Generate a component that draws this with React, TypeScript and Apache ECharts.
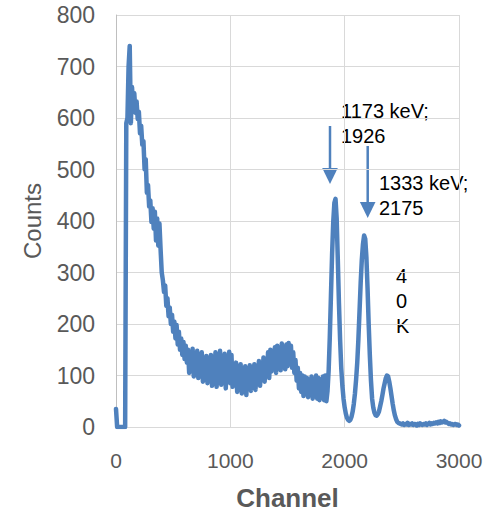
import React, { useEffect, useRef } from "react";
import * as echarts from "echarts";

// Gamma spectrum: counts sampled every 10 channels, from channel 0 to 3000
const channelStep = 10;
const counts: number[] = [
  35, 0, 0, 0, 0, 0, 0, 0, 0, 590, // 0-90
  600, 700, 740, 590, 660, 625, 648, 610, 632, 598, // 100-190
  612, 570, 585, 548, 555, 500, 520, 455, 470, 428, // 200-290
  440, 398, 425, 385, 418, 362, 405, 352, 395, 345, // 300-390
  300, 285, 262, 275, 235, 250, 215, 232, 200, 218, // 400-490
  185, 205, 172, 198, 160, 185, 150, 172, 140, 165, // 500-590
  132, 158, 125, 150, 105, 145, 110, 152, 98, 140, // 600-690
  115, 148, 95, 135, 102, 145, 88, 130, 100, 138, // 700-790
  85, 128, 95, 140, 80, 125, 98, 145, 78, 132, // 800-890
  90, 148, 82, 120, 100, 142, 75, 128, 95, 146, // 900-990
  85, 140, 78, 118, 92, 125, 68, 110, 85, 122, // 1000-1090
  65, 105, 88, 118, 62, 112, 80, 120, 70, 108, // 1100-1190
  90, 122, 72, 115, 85, 128, 80, 122, 95, 135, // 1200-1290
  88, 130, 100, 145, 95, 150, 108, 148, 112, 155, // 1300-1390
  105, 158, 118, 152, 110, 162, 120, 156, 112, 160, // 1400-1490
  118, 163, 122, 158, 115, 145, 105, 130, 90, 115, // 1500-1590
  75, 105, 68, 100, 60, 98, 65, 95, 58, 92, // 1600-1690
  62, 98, 55, 90, 60, 100, 55, 95, 52, 92, // 1700-1790
  58, 98, 52, 100, 50, 70, 110, 175, 255, 335, // 1800-1890
  398, 435, 443, 405, 325, 240, 170, 115, 80, 55, // 1900-1990
  38, 26, 18, 14, 12, 14, 20, 30, 45, 65, // 2000-2090
  92, 125, 170, 225, 280, 325, 355, 372, 365, 330, // 2100-2190
  270, 200, 140, 90, 55, 38, 28, 23, 22, 25, // 2200-2290
  30, 40, 50, 62, 75, 85, 95, 100, 98, 88, // 2300-2390
  75, 60, 45, 32, 22, 15, 10, 8, 7, 6, // 2400-2490
  5, 7, 4, 6, 5, 8, 4, 6, 5, 7, // 2500-2590
  4, 6, 5, 3, 6, 4, 7, 5, 4, 6, // 2600-2690
  5, 7, 4, 6, 8, 5, 7, 6, 8, 7, // 2700-2790
  9, 7, 10, 8, 11, 9, 10, 12, 9, 10, // 2800-2890
  8, 6, 7, 5, 6, 4, 5, 6, 4, 5, // 2900-2990
  3, // 3000
];

const xTicks = [0, 1000, 2000, 3000];
const yTicks = [0, 100, 200, 300, 400, 500, 600, 700, 800];

const peakLabels = ["1173 keV;\n1926", "1333 keV;\n2175", "4\n0\nK"];

const BLUE = "#4F81BD";
const FONT = "'Liberation Sans', Arial, sans-serif";

export default function App() {
  const ref = useRef<HTMLDivElement>(null);

  useEffect(() => {
    if (!ref.current) return;
    const chart = echarts.init(ref.current, undefined, { renderer: "svg" });
    const data = counts.map((c, i) => [i * channelStep, c]);

    const arrow = (x: number, y0: number, tip: number) => [
      {
        type: "line",
        shape: { x1: x, y1: y0, x2: x, y2: tip - 12 },
        style: { stroke: BLUE, lineWidth: 2.5 },
      },
      {
        type: "polygon",
        shape: { points: [[x - 7.8, tip - 16], [x + 7.8, tip - 16], [x, tip]] },
        style: { fill: BLUE },
      },
    ];

    chart.setOption({
      animation: false,
      backgroundColor: "#ffffff",
      grid: { left: 116, right: 39, top: 15, bottom: 83, containLabel: false },
      xAxis: {
        type: "value",
        min: xTicks[0],
        max: xTicks[xTicks.length - 1],
        interval: 1000,
        name: "Channel",
        nameLocation: "middle",
        nameGap: 58,
        nameTextStyle: { fontFamily: FONT, fontSize: 26, fontWeight: "bold", color: "#595959" },
        axisLine: { show: true, lineStyle: { color: "#D9D9D9", width: 1 } },
        axisTick: { show: false },
        axisLabel: {
          fontFamily: FONT,
          fontSize: 21,
          color: "#595959",
          margin: 23,
          formatter: (v: number) => String(v),
        },
        splitLine: { show: true, lineStyle: { color: "#D9D9D9", width: 1 } },
      },
      yAxis: {
        type: "value",
        min: yTicks[0],
        max: yTicks[yTicks.length - 1],
        interval: 100,
        name: "Counts",
        nameLocation: "middle",
        nameGap: 72,
        nameTextStyle: { fontFamily: FONT, fontSize: 24, color: "#595959" },
        axisLine: { show: true, lineStyle: { color: "#BFBFBF", width: 1 } },
        axisTick: { show: false },
        axisLabel: {
          fontFamily: FONT,
          fontSize: 23,
          color: "#595959",
          margin: 21,
          formatter: (v: number) => String(v),
        },
        splitLine: { show: true, lineStyle: { color: "#D9D9D9", width: 1 } },
      },
      series: [
        {
          type: "line",
          data,
          showSymbol: false,
          symbol: "none",
          lineStyle: { color: BLUE, width: 4.5, join: "round", cap: "round" },
          itemStyle: { color: BLUE },
        },
      ],
      graphic: [
        ...arrow(330, 126, 184),
        ...arrow(367.7, 146, 218),
        {
          type: "text",
          x: 341,
          y: 98,
          style: { text: peakLabels[0], font: `20px ${FONT}`, fill: "#000000", lineHeight: 25, verticalAlign: "top" },
        },
        {
          type: "text",
          x: 379,
          y: 170,
          style: { text: peakLabels[1], font: `20px ${FONT}`, fill: "#000000", lineHeight: 25, verticalAlign: "top" },
        },
        {
          type: "text",
          x: 396,
          y: 263,
          style: { text: peakLabels[2], font: `20px ${FONT}`, fill: "#000000", lineHeight: 25, verticalAlign: "top" },
        },
      ],
    });

    return () => chart.dispose();
  }, []);

  return <div ref={ref} style={{ width: 498, height: 516, position: "absolute", left: 0, top: 0 }} />;
}
